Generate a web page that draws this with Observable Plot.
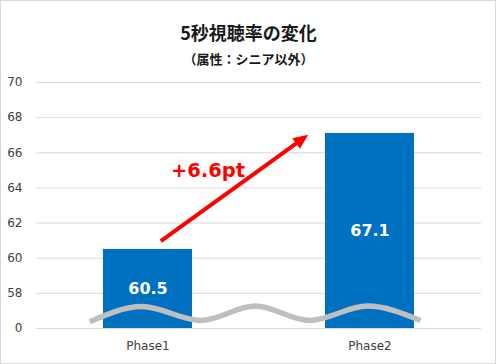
<!DOCTYPE html>
<html>
<head>
<meta charset="utf-8">
<script src="https://cdn.jsdelivr.net/npm/d3@7"></script>
<script src="https://cdn.jsdelivr.net/npm/@observablehq/plot@0.6"></script>
<style>
  html, body { margin: 0; padding: 0; background: #fff; }
  #chart { width: 494px; height: 362px; border: 1px solid #d9d9d9; background: #fff; }
  #chart svg { display: block; }
</style>
</head>
<body>
<div id="chart"></div>
<script>
const categories = ["Phase1", "Phase2"];
const values = [60.5, 67.1];
const yTicks = [56, 58, 60, 62, 64, 66, 68, 70];
const yTickLabels = ["0", "58", "60", "62", "64", "66", "68", "70"];
const titleText = "5秒視聴率の変化";
const subtitleText = "（属性：シニア以外）";

const data = categories.map((c, i) => ({cat: c, value: values[i]}));
const yBase = yTicks[0];
const labelOf = new Map(yTicks.map((t, i) => [t, yTickLabels[i]]));
const diff = values[1] - values[0];

const plot = Plot.plot({
  width: 494,
  height: 362,
  marginLeft: 35,
  marginRight: 14,
  marginTop: 81,
  marginBottom: 35,
  style: {fontFamily: "DejaVu Sans", fontSize: "12px", color: "#404040", background: "#fff"},
  x: {domain: categories, paddingInner: 0.6, paddingOuter: 0.3, axis: null, label: null},
  y: {domain: [yBase, 70], axis: null, label: null},
  marks: [
    Plot.gridY(yTicks, {stroke: "#d9d9d9", strokeOpacity: 1}),
    Plot.axisY(yTicks, {tickSize: 0, tickPadding: 14, tickFormat: d => labelOf.get(d), fill: "#404040", fontSize: 12, label: null}),
    Plot.axisX({tickSize: 0, tickPadding: 13, fill: "#404040", fontSize: 12, label: null}),
    Plot.barY(data, {x: "cat", y1: yBase, y2: "value", fill: "#0070c0"}),
    Plot.text(data, {x: "cat", y: d => (yBase + d.value) / 2, text: d => d.value.toFixed(1), fill: "#fff", fontWeight: "bold", fontSize: 16}),
    Plot.text([`+${diff.toFixed(1)}pt`], {x: () => categories[0], y: () => 65, dx: 60, text: d => d, fill: "#ff0000", fontWeight: "bold", fontSize: 19.5}),
    Plot.text([titleText], {frameAnchor: "top", dx: -10.5, dy: -55, text: d => d, fill: "#1a1a1a", fontWeight: "bold", fontSize: 18, fontFamily: "Noto Sans CJK JP"}),
    Plot.text([subtitleText], {frameAnchor: "top", dx: -10.5, dy: -27.5, text: d => d, fill: "#1a1a1a", fontWeight: "bold", fontSize: 13, fontFamily: "Noto Sans CJK JP"})
  ]
});

document.getElementById("chart").appendChild(plot);

// Axis-break wave and arrow annotation drawn through Plot's scales
const sx = plot.scale("x");
const sy = plot.scale("y");
const cx = c => sx.apply(c) + sx.bandwidth / 2;
const step = cx(categories[1]) - cx(categories[0]);
const svg = d3.select(plot);

const waveT = [-0.26, -0.025, 0.24, 0.485, 0.73, 0.99, 1.23];
const waveV = [56.36, 57.22, 56.43, 57.25, 56.43, 57.25, 56.43];
const wavePts = waveT.map((t, i) => [cx(categories[0]) + t * step, sy.apply(waveV[i])]);
svg.append("path")
  .attr("d", d3.line().curve(d3.curveMonotoneX)(wavePts))
  .attr("fill", "none")
  .attr("stroke", "#bfbfbf")
  .attr("stroke-width", 5.5);

const S = [cx(categories[0]) + 0.06 * step, sy.apply(60.95)];
const T = [cx(categories[1]) - 0.276 * step, sy.apply(67.0)];
const dxA = T[0] - S[0], dyA = T[1] - S[1];
const len = Math.hypot(dxA, dyA);
const ux = dxA / len, uy = dyA / len;
const headLen = 15, headHalf = 6.5;
const B = [T[0] - ux * headLen, T[1] - uy * headLen];
const g = svg.append("g");
g.append("line")
  .attr("x1", S[0]).attr("y1", S[1])
  .attr("x2", B[0] + ux * 2).attr("y2", B[1] + uy * 2)
  .attr("stroke", "#ff0000").attr("stroke-width", 4);
g.append("path")
  .attr("d", `M${T[0]},${T[1]}L${B[0] - uy * headHalf},${B[1] + ux * headHalf}L${B[0] + uy * headHalf},${B[1] - ux * headHalf}Z`)
  .attr("fill", "#ff0000");
</script>
</body>
</html>
